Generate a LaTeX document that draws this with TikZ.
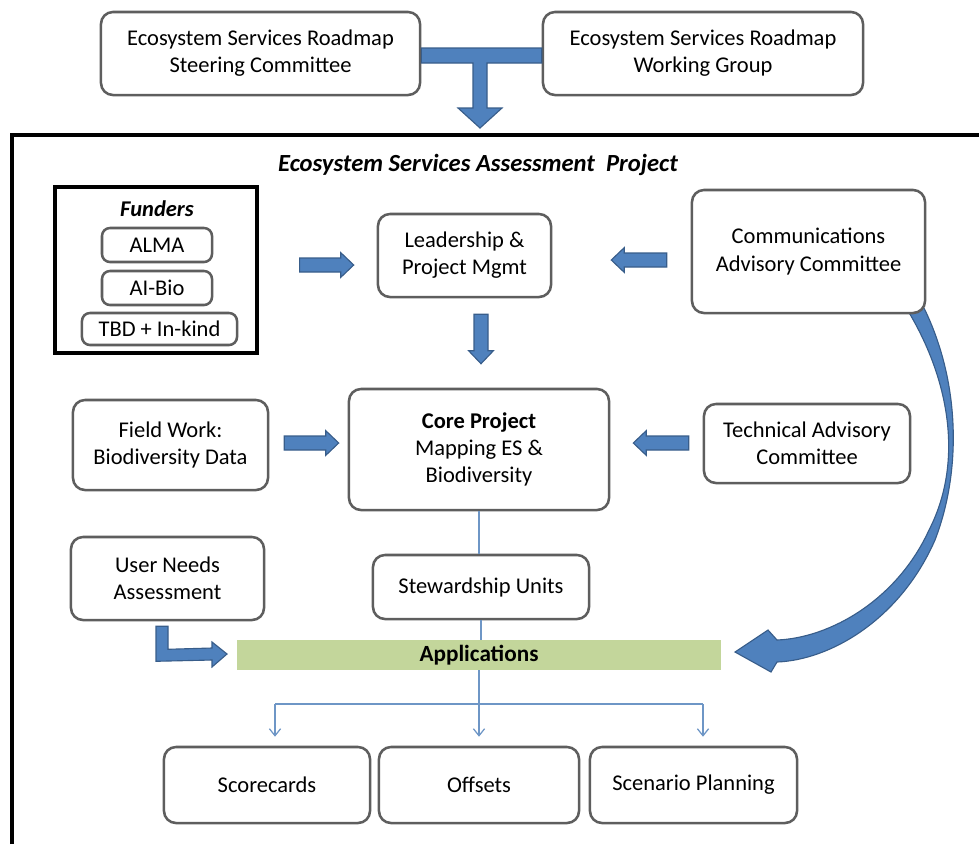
\documentclass[tikz,border=0pt]{standalone}
\usepackage{fontspec}
\setmainfont{Carlito}
\usetikzlibrary{arrows.meta,calc,backgrounds}

\definecolor{boxline}{HTML}{5E5E5E}
\definecolor{arrowfill}{HTML}{4F81BD}
\definecolor{arrowline}{HTML}{385D8A}
\definecolor{linkblue}{HTML}{6E96C6}
\definecolor{appgreen}{HTML}{C3D69B}

% block arrow from #1 to #2 (coordinates)
\newcommand{\blockarrow}[2]{%
    \coordinate (ba-s) at #1;
    \coordinate (ba-e) at #2;
    \coordinate (ba-h) at ($(ba-e)!0.325cm!(ba-s)$);
    \filldraw[barrow] ($(ba-s)!0.175cm!90:(ba-e)$) -- ($(ba-h)!0.175cm!90:(ba-e)$)
        -- ($(ba-h)!0.31cm!90:(ba-e)$) -- (ba-e) -- ($(ba-h)!0.31cm!-90:(ba-e)$)
        -- ($(ba-h)!0.175cm!-90:(ba-e)$) -- ($(ba-s)!0.175cm!-90:(ba-e)$) -- cycle;
}

\begin{document}
\begin{tikzpicture}[x=0.025cm, y=-0.025cm,
        box/.style={draw=boxline, line width=1.8pt, rounded corners=0.3cm, fill=white,
            align=center, inner sep=2pt, font=\fontsize{16}{19.3}\selectfont},
        smallbox/.style={box, rounded corners=0.2cm},
        barrow/.style={fill=arrowfill, draw=arrowline, line width=0.8pt},
        link/.style={draw=linkblue, line width=0.9pt},
        >={Straight Barb[length=5pt,width=8pt]}]
    \useasboundingbox (0,0) rectangle (979,844);

    % Roadmap committees
    \node[box, minimum width=7.975cm, minimum height=2.075cm] (steer) at (260.5,53.5)
        {Ecosystem Services Roadmap\\Steering Committee};
    \node[box, minimum width=8cm, minimum height=2.075cm] (work) at (703,53.5)
        {Ecosystem Services Roadmap\\Working Group};

    \filldraw[barrow] (steer.east |- 0,48) -- (work.west |- 0,48) -- (work.west |- 0,63)
        -- (487,63) -- (487,108) -- (502,108) -- (480,128) -- (458,108) -- (473,108)
        -- (473,63) -- (steer.east |- 0,63) -- cycle;

    % Project frame
    \draw[line width=2.2pt] (12,844) -- (12,135) -- (979,135);
    \node[font=\fontsize{17.5}{21}\selectfont\bfseries\itshape] (title) at (478,165)
        {Ecosystem Services Assessment\ \ Project};

    % Funders
    \node[draw, line width=2.2pt, minimum width=5.05cm, minimum height=4.15cm] (fund) at (156,270) {};
    \node[font=\fontsize{16}{19}\selectfont\bfseries\itshape] (fundlbl) at (157,209) {Funders};
    \node[smallbox, minimum width=2.75cm, minimum height=0.85cm] (alma) at (157,245) {ALMA};
    \node[smallbox, minimum width=2.75cm, minimum height=0.85cm] (aibio) at (157,288) {AI-Bio};
    \node[smallbox, minimum width=3.875cm, minimum height=0.8cm] (tbd) at (159.5,329) {TBD + In-kind};

    % Management and advisory
    \node[box, minimum width=4.325cm, minimum height=2.075cm] (lead) at (464.5,255.5)
        {Leadership \&\\Project Mgmt};
    \node[box, minimum width=5.825cm, minimum height=3.075cm] (comm) at (808.5,251.5)
        {Communications\\Advisory Committee};
    \node[box, minimum width=6.5cm, minimum height=3.025cm] (core) at (479,449.5)
        {\textbf{Core Project}\\Mapping ES \&\\Biodiversity};
    \node[box, minimum width=4.875cm, minimum height=2.25cm] (field) at (170.5,445)
        {Field Work:\\Biodiversity Data};
    \node[box, minimum width=5.15cm, minimum height=1.975cm] (tech) at (807,443.5)
        {Technical Advisory\\Committee};

    \blockarrow{($(fund.east)+(41,-5)$)}{($(lead.west)+(-23,9.5)$)}
    \blockarrow{($(comm.west)+(-24,8.5)$)}{($(lead.east)+(59,4.5)$)}
    \blockarrow{($(lead.south)+(16.5,16)$)}{($(core.north)+(2,-24)$)}
    \blockarrow{($(field.east)+(15,-2)$)}{($(core.west)+(-9,-6.5)$)}
    \blockarrow{($(tech.west)+(-14,-0.5)$)}{($(core.east)+(23,-6.5)$)}

    % Applications
    \node[box, minimum width=4.825cm, minimum height=2.075cm] (user) at (167.5,578.5)
        {User Needs\\Assessment};
    \node[box, minimum width=5.4cm, minimum height=1.6cm] (stew) at (481,587) {Stewardship Units};
    \node[fill=appgreen, minimum width=12.1cm, minimum height=0.75cm,
        font=\fontsize{16.5}{19}\selectfont\bfseries] (apps) at (479,655) {Applications};

    \draw[link] (core.south) -- (core.south |- stew.north);
    \draw[link] (stew.south) -- (stew.south |- apps.north);

    \filldraw[barrow] ($(user.south)+(-11.5,5)$) -- ++(12,0) -- ++(0,23) -- (212,648)
        -- (212,642) -- (227,654) -- (212,667) -- (212,660) -- ($(user.south)+(-11.5,40)$) -- cycle;

    \begin{scope}[on background layer]
        \filldraw[barrow] (923,306) .. controls (960,380) and (962,470) .. (935,540)
            .. controls (900,620) and (830,660) .. (777,662) -- (771,672) -- (735,652)
            -- (768,630) -- (777,640) .. controls (830,638) and (897,600) .. (929,530)
            .. controls (964,462) and (950,378) .. (905,306) -- cycle;
    \end{scope}

    % Uses
    \node[box, minimum width=5.15cm, minimum height=1.9cm] (score) at (267,785) {Scorecards};
    \node[box, minimum width=5cm, minimum height=1.9cm] (offs) at (479,785) {Offsets};
    \node[box, minimum width=5.175cm, minimum height=1.9cm] (scen) at (693.5,785) {Scenario Planning};

    \coordinate (split) at ($(apps.south)+(0,34)$);
    \coordinate (spl) at (275,704);
    \coordinate (spr) at (703,704);
    \draw[link] (apps.south) -- (split);
    \draw[link] (spl) -- (spr);
    \draw[link, ->, shorten >=0.225cm] (spl) -- (spl |- score.north);
    \draw[link, ->, shorten >=0.225cm] (split) -- (split |- offs.north);
    \draw[link, ->, shorten >=0.225cm] (spr) -- (spr |- scen.north);
\end{tikzpicture}
\end{document}
